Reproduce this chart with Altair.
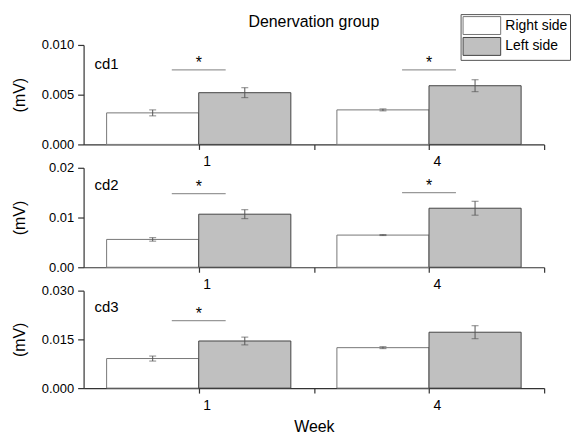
import altair as alt
import pandas as pd

FONT = "Liberation Sans"

weeks = ["1", "4"]
sides = ["Right side", "Left side"]

cd1_right = [0.00317, 0.00347]
cd1_left = [0.0052, 0.0059]
cd1_right_err = [0.0003, 0.0001]
cd1_left_err = [0.0005, 0.0006]
cd1_sig = [0.0075, 0.0075]

cd2_right = [0.0056, 0.00647]
cd2_left = [0.01067, 0.01187]
cd2_right_err = [0.00035, 0.0001]
cd2_left_err = [0.0009, 0.0014]
cd2_sig = [0.0148, 0.0150]

cd3_right = [0.0091, 0.01245]
cd3_left = [0.0145, 0.0172]
cd3_right_err = [0.00077, 0.0003]
cd3_left_err = [0.0012, 0.002]
cd3_sig = [0.0208, None]

cd1_ticks = [0, 0.0025, 0.005, 0.0075, 0.01]
cd1_major = [0, 0.005, 0.01]
cd2_ticks = [0, 0.005, 0.01, 0.015, 0.02]
cd2_major = [0, 0.01, 0.02]
cd3_ticks = [0, 0.0075, 0.015, 0.0225, 0.03]
cd3_major = [0, 0.015, 0.03]

BAR_W = 0.4
SIG_HALF = 0.117
x_label_expr = " : ".join(
    [f"datum.value == {i + 1} ? '{w}'" for i, w in enumerate(weeks)]
) + " : ''"


def panel(name, right, left, rerr, lerr, sig, ticks, major, fmt, height, label_y,
          show_legend, xtitle, title=None):
    rows = []
    for i, w in enumerate(weeks):
        pos = i + 1
        for side, vals, errs, off in [(sides[0], right, rerr, -1), (sides[1], left, lerr, 0)]:
            x0 = pos + off * BAR_W
            rows.append(dict(week=w, side=side, mean=vals[i], base=0.0, lo=vals[i] - errs[i],
                             hi=vals[i] + errs[i], x0=x0, x1=x0 + BAR_W, xc=x0 + BAR_W / 2))
    df = pd.DataFrame(rows)
    sig_rows = [dict(xs0=i + 1 - SIG_HALF, xs1=i + 1 + SIG_HALF, xc=i + 1, y=s, star="*")
                for i, s in enumerate(sig) if s is not None]
    sdf = pd.DataFrame(sig_rows)

    x_scale = alt.Scale(domain=[0.5, 2.5], nice=False, zero=False)
    y_scale = alt.Scale(domain=[0, ticks[-1]], nice=False)
    xaxis_kw = dict(values=[1, 1.5, 2, 2.5], labelExpr=x_label_expr, labelOffset=8,
                    labelFontSize=14, tickSize=5, labelPadding=5, grid=False,
                    labelFont=FONT)
    if xtitle:
        xaxis = alt.Axis(title=xtitle, titleFontSize=16, titleFont=FONT,
                         titleFontWeight="normal", titlePadding=7, titleColor="#000",
                         **xaxis_kw)
    else:
        xaxis = alt.Axis(title=None, **xaxis_kw)
    cond = " || ".join(f"datum.value == {m!r}" for m in major)
    yaxis = alt.Axis(values=ticks,
                     labelExpr=f"({cond}) ? format(datum.value, '{fmt}') : ''",
                     title="(mV)", titleFontSize=16, titleFont=FONT, titleFontWeight="normal",
                     titleColor="#000", titleX=-64, titleY=height / 2, titleAlign="center",
                     titleBaseline="middle", titleAngle=270,
                     labelFontSize=13, labelFont=FONT, tickSize=6, labelPadding=4, grid=False)

    if show_legend:
        leg = alt.Legend(title=None, orient="none", legendX=379, legendY=-31,
                         symbolType="M-1,-1H3.2V1H-1Z", symbolSize=324,
                         symbolStrokeWidth=1, labelFontSize=14, labelFont=FONT,
                         labelColor="#000", labelOffset=24, padding=2, rowPadding=-5,
                         strokeColor="#555", fillColor="#ffffff")
    else:
        leg = None

    bars = alt.Chart(df).mark_bar(strokeWidth=1).encode(
        x=alt.X("x0:Q", scale=x_scale, axis=xaxis),
        x2="x1:Q",
        y=alt.Y("mean:Q", scale=y_scale, axis=yaxis),
        y2="base:Q",
        fill=alt.Fill("side:N", scale=alt.Scale(domain=sides, range=["#ffffff", "#c0c0c0"]), legend=leg),
        stroke=alt.Stroke("side:N", scale=alt.Scale(domain=sides, range=["#777777", "#444444"]), legend=leg),
    )
    err = alt.Chart(df).mark_rule(color="#555", strokeWidth=1).encode(
        x="xc:Q", y="lo:Q", y2="hi:Q")
    caps_lo = alt.Chart(df).mark_tick(color="#555", orient="horizontal", size=7, thickness=1).encode(
        x="xc:Q", y="lo:Q")
    caps_hi = alt.Chart(df).mark_tick(color="#555", orient="horizontal", size=7, thickness=1).encode(
        x="xc:Q", y="hi:Q")
    sigline = alt.Chart(sdf).mark_rule(color="#999", strokeWidth=1.2).encode(
        x="xs0:Q", x2="xs1:Q", y="y:Q")
    stars = alt.Chart(sdf).mark_text(fontSize=16, font=FONT, baseline="alphabetic", dy=-2,
                                     color="#000").encode(x="xc:Q", y="y:Q", text="star:N")
    lab = alt.Chart(pd.DataFrame({"label": [name]})).mark_text(
        align="left", baseline="alphabetic", fontSize=15, font=FONT, color="#000").encode(
        x=alt.value(11), y=alt.value(label_y), text="label:N")

    props = dict(width=463, height=height)
    if title:
        props["title"] = alt.TitleParams(title, fontSize=16, font=FONT, fontWeight="normal",
                                         anchor="middle", frame="group", offset=-16, color="#000")
    return alt.layer(bars, err, caps_lo, caps_hi, sigline, stars, lab).properties(**props)


p1 = panel("cd1", cd1_right, cd1_left, cd1_right_err, cd1_left_err, cd1_sig,
           cd1_ticks, cd1_major, ".3f", 100, 24, True, None, "Denervation group")
p2 = panel("cd2", cd2_right, cd2_left, cd2_right_err, cd2_left_err, cd2_sig,
           cd2_ticks, cd2_major, ".2f", 100, 22, False, None)
p3 = panel("cd3", cd3_right, cd3_left, cd3_right_err, cd3_left_err, cd3_sig,
           cd3_ticks, cd3_major, ".3f", 98, 21, False, "Week")

chart = alt.vconcat(p1, p2, p3, spacing=23.5, bounds="flush").resolve_scale(
    fill="independent", stroke="independent"
).properties(
    padding={"left": 4, "top": 4, "right": 0, "bottom": 0}
).configure_view(strokeWidth=0).configure_axis(
    domainColor="#333", domainWidth=1.2, tickColor="#333", tickWidth=1.2,
    labelColor="#000", labelFont=FONT, titleFont=FONT
)

chart.save("out.html", embed_options={"renderer": "svg", "actions": False})
